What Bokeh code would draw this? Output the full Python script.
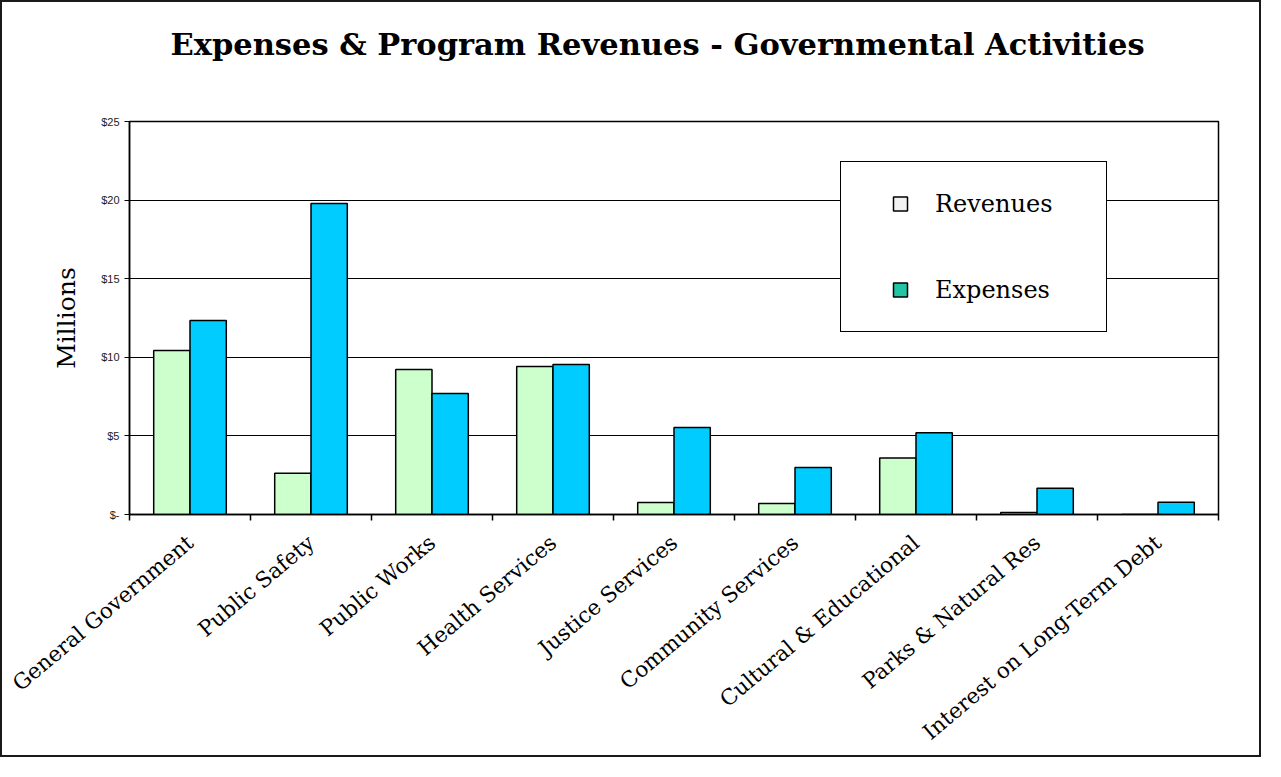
from bokeh.plotting import figure
from bokeh.models import ColumnDataSource, FixedTicker, Legend, LegendItem, Range1d, Title
from bokeh.transform import dodge
from bokeh.embed import file_html
from bokeh.resources import INLINE

categories = ["General Government", "Public Safety", "Public Works", "Health Services",
              "Justice Services", "Community Services", "Cultural & Educational",
              "Parks & Natural Res", "Interest on Long-Term Debt"]
revenues = [10.43, 2.63, 9.22, 9.41, 0.76, 0.70, 3.60, 0.12, 0.0]
expenses = [12.34, 19.78, 7.70, 9.54, 5.53, 2.99, 5.20, 1.67, 0.78]
y_ticks = [0, 5, 10, 15, 20, 25]
y_tick_labels = ["$-", "$5", "$10", "$15", "$20", "$25"]

n = len(categories)
positions = [i + 0.5 for i in range(n)]
boundaries = list(range(n + 1))
src = ColumnDataSource(dict(x=positions, rev=revenues, exp=expenses))

p = figure(width=1261, height=757, x_range=Range1d(0, n), y_range=Range1d(0, 25),
           output_backend="svg", toolbar_location=None,
           min_border_left=127, min_border_right=45, min_border_top=119, min_border_bottom=245,
           styles={"border": "2px solid #1a1a1a"})

p.title.text = "Expenses & Program Revenues - Governmental Activities"
p.title.text_font = "DejaVu Serif"
p.title.text_font_size = "30.5px"
p.title.text_font_style = "bold"
p.title.text_color = "black"
p.title.align = "left"
p.title.offset = 41
p.title.standoff = 0

# empty spacer between the title and the plot frame
p.add_layout(Title(text=" ", text_font_size="36px", standoff=17), "above")

p.vbar(x=dodge("x", -0.15, range=p.x_range), top="rev", width=0.3, source=src,
       fill_color="#CCFFCC", line_color="black", line_width=1.5)
p.vbar(x=dodge("x", 0.15, range=p.x_range), top="exp", width=0.3, source=src,
       fill_color="#00CCFF", line_color="black", line_width=1.5)

# legend-only swatch renderers (hidden in the plot area)
r1 = p.scatter(x="x", y="rev", source=src, marker="square", size=14,
               fill_color="#F2F2F2", line_color="black", line_width=1.5, visible=False)
r2 = p.scatter(x="x", y="exp", source=src, marker="square", size=14,
               fill_color="#22C4A4", line_color="black", line_width=1.5, visible=False)

legend = Legend(items=[LegendItem(label="Revenues", renderers=[r1]),
                       LegendItem(label="Expenses", renderers=[r2])],
                location=(711, 182), padding=24, glyph_width=70, glyph_height=35,
                label_standoff=0, label_width=147, spacing=51, margin=0,
                label_text_font="DejaVu Serif", label_text_font_size="24px",
                label_text_color="black", click_policy="none",
                inactive_fill_alpha=0,
                border_line_color="black", border_line_width=1.5, border_line_alpha=1,
                background_fill_color="white", background_fill_alpha=1)
p.add_layout(legend, "center")

p.outline_line_color = "black"
p.outline_line_width = 1.5
p.xgrid.visible = False
p.ygrid.ticker = FixedTicker(ticks=y_ticks)
p.ygrid.grid_line_color = "black"
p.ygrid.grid_line_width = 1

xa = p.xaxis[0]
xa.ticker = FixedTicker(ticks=positions, minor_ticks=boundaries)
xa.major_label_overrides = {pos: cat for pos, cat in zip(positions, categories)}
xa.major_tick_line_color = None
xa.major_tick_out = 0
xa.major_tick_in = 0
xa.minor_tick_line_color = "black"
xa.minor_tick_in = 0
xa.minor_tick_out = 6
xa.minor_tick_line_width = 1.5
xa.major_label_orientation = 0.70
xa.major_label_standoff = 19
xa.major_label_text_font = "DejaVu Serif"
xa.major_label_text_font_size = "21.5px"
xa.major_label_text_color = "black"
xa.axis_line_color = "black"
xa.axis_line_width = 1.5

ya = p.yaxis[0]
ya.ticker = FixedTicker(ticks=y_ticks)
ya.major_label_overrides = {t: l for t, l in zip(y_ticks, y_tick_labels)}
ya.major_tick_out = 5
ya.major_tick_in = 0
ya.major_tick_line_color = "black"
ya.minor_tick_line_color = None
ya.major_label_text_font = "Liberation Sans"
ya.major_label_text_font_size = "11px"
ya.major_label_text_color = "#222222"
ya.axis_label = "Millions"
ya.axis_label_text_font = "DejaVu Serif"
ya.axis_label_text_font_size = "25px"
ya.axis_label_text_font_style = "normal"
ya.axis_label_text_color = "black"
ya.axis_label_text_align = "left"
ya.axis_label_standoff = 17
ya.axis_line_color = "black"
ya.axis_line_width = 1.5

open("out.html", "w").write(file_html(p, INLINE))
